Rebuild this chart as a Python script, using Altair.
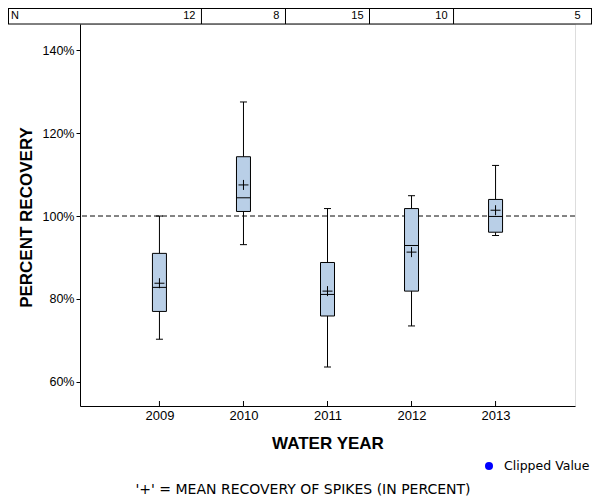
import altair as alt
import pandas as pd

# ---- data ----
years = [2009, 2010, 2011, 2012, 2013]
n_counts = [12, 8, 15, 10, 5]
whisker_low = [70.3, 93.1, 63.6, 73.5, 95.3]
q1 = [77.0, 101.1, 75.9, 81.9, 96.1]
median = [82.8, 104.4, 81.1, 92.9, 99.9]
q3 = [91.0, 114.3, 88.8, 101.8, 104.0]
whisker_high = [100.0, 127.5, 101.8, 104.9, 112.2]
mean = [83.8, 107.5, 81.9, 91.3, 101.4]
y_ticks = [60, 80, 100, 120, 140]

df = pd.DataFrame({
    "year": years, "n": n_counts, "low": whisker_low, "q1": q1,
    "median": median, "q3": q3, "high": whisker_high, "mean": mean,
})
one = pd.DataFrame({"a": [0]})

W, H = 495, 382
FONT = "Liberation Sans"
WIDE = "DejaVu Sans"

xscale = alt.Scale(domain=[2008.114, 2013.886], nice=False, zero=False)
yscale = alt.Scale(domain=[54.2, 146.3], nice=False, zero=False)

xaxis = alt.Axis(values=years, format="d", ticks=False, tickSize=0, grid=False,
                 labelFontSize=13, labelFont=FONT, labelColor="black", labelPadding=3,
                 domainColor="black", titleFontSize=17, titleFont=FONT,
                 titleFontWeight="bold", titleColor="black", titleX=W / 2, titleY=42,
                 titleBaseline="alphabetic", titleAlign="center")
yaxis = alt.Axis(values=y_ticks, labelExpr="datum.value + '%'", grid=False,
                 tickSize=4, tickColor="black", labelPadding=2, labelFontSize=12.5,
                 labelFont=FONT, labelColor="black", domainColor="black",
                 titleFontSize=17, titleFont=FONT, titleFontWeight="bold",
                 titleColor="black", titleAngle=-90, titleX=-49, titleY=193,
                 titleBaseline="alphabetic", titleAlign="center")


def X(field="year"):
    return alt.X(f"{field}:Q", scale=xscale, axis=xaxis, title="WATER YEAR")


def Y(field):
    return alt.Y(f"{field}:Q", scale=yscale, axis=yaxis, title="PERCENT RECOVERY")


base = alt.Chart(df)

ref = base.mark_rule(color="#808080", strokeDash=[5, 3], strokeWidth=1).encode(
    y=alt.Y(datum=100, scale=yscale, axis=yaxis, title="PERCENT RECOVERY"))

wl = base.mark_rule(color="black", strokeWidth=1).encode(x=X(), y=Y("low"), y2="q1")
wh = base.mark_rule(color="black", strokeWidth=1).encode(x=X(), y=Y("q3"), y2="high")

box = base.mark_bar(size=14, fill="#B9CFE7", stroke="black", strokeWidth=1).encode(
    x=X(), y=Y("q1"), y2="q3")

med = base.mark_point(shape="M-1,0H1", size=196, filled=False, stroke="black",
                      strokeWidth=1, opacity=1).encode(x=X(), y=Y("median"))
cap_lo = base.mark_point(shape="M-1,0H1", size=49, filled=False, stroke="black",
                         strokeWidth=1, opacity=1).encode(x=X(), y=Y("low"))
cap_hi = base.mark_point(shape="M-1,0H1", size=49, filled=False, stroke="black",
                         strokeWidth=1, opacity=1).encode(x=X(), y=Y("high"))
mn = base.mark_point(shape="M-1,0H1M0,-1V1", size=100, filled=False, stroke="black",
                     strokeWidth=1, opacity=1).encode(x=X(), y=Y("mean"))

# inward x ticks
xticks = base.mark_rule(color="black").encode(x=X(), y=alt.value(H - 5), y2=alt.value(H))

# N table above the plot
frame_top = alt.Chart(one).mark_rule(color="black").encode(
    x=alt.value(-72), x2=alt.value(W + 17), y=alt.value(-15.5))
frame_bot = alt.Chart(one).mark_rule(color="black").encode(
    x=alt.value(-72), x2=alt.value(W + 17), y=alt.value(0))
frame_l = alt.Chart(one).mark_rule(color="black").encode(
    x=alt.value(-71.5), y=alt.value(-16), y2=alt.value(0))
frame_r = alt.Chart(one).mark_rule(color="black").encode(
    x=alt.value(W + 16.5), y=alt.value(-16), y2=alt.value(0))
dividers = base.transform_filter("datum.year < 2013").transform_calculate(
    div="datum.year + 0.5").mark_rule(color="black").encode(
    x=X("div"), y=alt.value(-16), y2=alt.value(0))
n_text = base.transform_calculate(
    nx="datum.year < 2013 ? datum.year + 0.5 : 2014.085").mark_text(
    align="right", baseline="middle", dx=-6, fontSize=11, font=FONT, color="black").encode(
    x=X("nx"), y=alt.value(-8), text="n:Q")
n_label = alt.Chart(one).mark_text(align="left", baseline="middle", fontSize=11,
                                   font=FONT, color="black").encode(
    x=alt.value(-69), y=alt.value(-8), text=alt.value("N"))

# legend and footnote
leg_dot = alt.Chart(one).mark_point(shape="circle", size=64, filled=True, color="blue",
                                    opacity=1).encode(x=alt.value(409), y=alt.value(442))
leg_txt = alt.Chart(one).mark_text(align="left", baseline="middle", fontSize=12.5,
                                   font=WIDE, color="black").encode(
    x=alt.value(424), y=alt.value(442), text=alt.value("Clipped Value"))
foot = alt.Chart(one).mark_text(align="center", baseline="alphabetic", fontSize=14,
                                font=WIDE, color="black").encode(
    x=alt.value(223), y=alt.value(470),
    text=alt.value("'+' = MEAN RECOVERY OF SPIKES (IN PERCENT)"))

chart = alt.layer(
    ref, wl, wh, box, med, cap_lo, cap_hi, mn, xticks,
    frame_top, frame_bot, frame_l, frame_r, dividers, n_text, n_label,
    leg_dot, leg_txt, foot,
).properties(
    width=W, height=H,
    autosize=alt.AutoSizeParams(type="none"),
    padding={"left": 72, "top": 16, "right": 17, "bottom": 93},
).configure_view(stroke="black", strokeWidth=1).configure(background="white")

chart.save("out.html", embed_options={"renderer": "svg", "actions": False})
